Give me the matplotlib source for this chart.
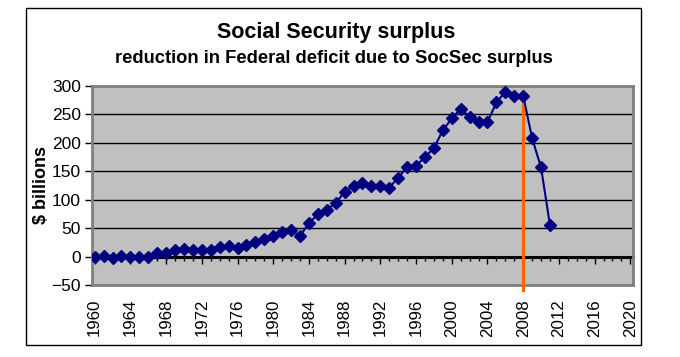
import matplotlib
matplotlib.use("Agg")
import matplotlib.pyplot as plt
from matplotlib.patches import Rectangle
from matplotlib.ticker import MultipleLocator

plt.rcParams['font.family'] = ['Liberation Sans', 'DejaVu Sans']

years = list(range(1960, 2012))
surplus = [0, 1, -3, 1, 0, 0, -1, 6, 6, 11, 14, 11, 11, 11, 16, 18, 15, 20, 25, 31,
           36, 43, 46, 36, 59, 74, 82, 94, 114, 124, 130, 124, 124, 121, 139, 157,
           160, 175, 191, 222, 243, 260, 246, 237, 237, 271, 290, 283, 283, 208, 157, 55]
marker_year = 2008
title = "Social Security surplus"
subtitle = "reduction in Federal deficit due to SocSec surplus"
ylabel = "$ billions"
y_ticks = [-50, 0, 50, 100, 150, 200, 250, 300]
x_ticks = list(range(1960, 2021, 4))
ylim = (-50, 300)
xlim = (1959.7, 2020.3)

fig = plt.figure(figsize=(6.8, 3.57), dpi=100)
fig.patch.set_facecolor('white')
ax = fig.add_axes([92/680, 1-285/357, (633-92)/680, (285-86)/357])
ax.set_facecolor('#C0C0C0')
ax.set_xlim(*xlim)
ax.set_ylim(*ylim)

ax.set_yticks(y_ticks)
ax.yaxis.grid(True, color='black', linewidth=1)
ax.set_axisbelow(True)
ax.tick_params(axis='y', direction='out', length=5, width=1, color='black',
               labelsize=12.5, pad=3)

ax.set_xticks(x_ticks)
ax.set_xticklabels([str(x) for x in x_ticks], rotation=90)
ax.tick_params(axis='x', length=0, labelsize=12.2, pad=10)

for s in ax.spines.values():
    s.set_color('#808080')
    s.set_linewidth(2)

# zero-line category axis with ticks
loc = (0 - ylim[0]) / (ylim[1] - ylim[0])
sec = ax.secondary_xaxis(loc)
sec.set_xticks(x_ticks)
sec.xaxis.set_minor_locator(MultipleLocator(1))
sec.tick_params(axis='x', which='major', direction='out', length=5, width=1,
                color='black', labelbottom=False, labeltop=False)
sec.tick_params(axis='x', which='minor', direction='out', length=3, width=1,
                color='black')
sec.spines['bottom'].set_color('black')
sec.spines['bottom'].set_linewidth(2.2)
sec.xaxis.set_ticks_position('bottom')
sec.set_xticklabels([])

ax.plot(years, surplus, color='#000080', linewidth=1.5, marker='D',
        markersize=6.5, markerfacecolor='#000080', markeredgecolor='#000080',
        zorder=4)

ax.plot([marker_year, marker_year], [surplus[years.index(marker_year)], -58],
        color='#FF6600', linewidth=2.3, clip_on=False, zorder=3)

ax.set_ylabel(ylabel, fontsize=13, fontweight='bold', labelpad=2)
ax.yaxis.set_label_coords(-42/541, 0.5)

fig.text(336/680, 1-38.3/357, title, ha='center', va='baseline',
         fontsize=15.5, fontweight='bold')
fig.text(334/680, 1-63.3/357, subtitle, ha='center', va='baseline',
         fontsize=13.2, fontweight='bold')

fig.add_artist(Rectangle((26/680, 1-345/357), (641-26)/680, (345-8)/357,
                         transform=fig.transFigure, fill=False,
                         edgecolor='black', linewidth=1))

fig.savefig('out.png', dpi=100)
